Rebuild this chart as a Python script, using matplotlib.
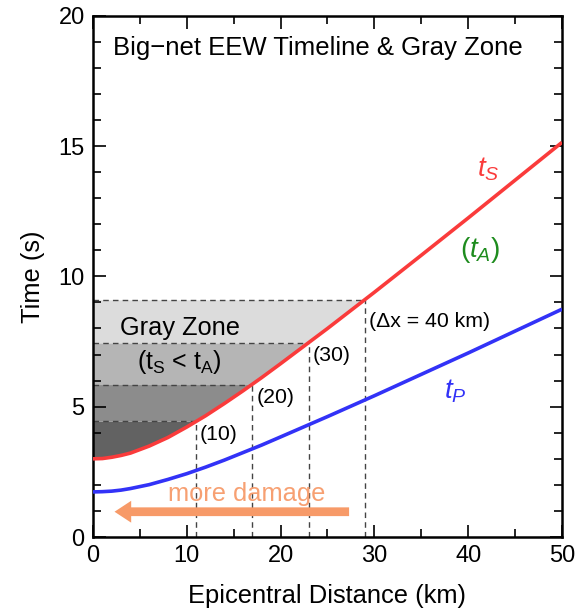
import numpy as np
import matplotlib
matplotlib.use('Agg')
import matplotlib.pyplot as plt

# ---------------------------------------------------------
# data
# ---------------------------------------------------------
dist = [0, 1, 2, 3, 4, 6, 8, 10, 12, 14, 16, 18, 20, 25, 30, 35, 40, 45, 50]
t_s = [3.00, 3.01, 3.06, 3.13, 3.22, 3.49, 3.82, 4.22, 4.65, 5.12, 5.61, 6.12,
       6.65, 8.00, 9.39, 10.81, 12.24, 13.69, 15.14]
t_p = [1.73, 1.74, 1.76, 1.80, 1.86, 2.01, 2.21, 2.43, 2.68, 2.95, 3.24, 3.53,
       3.84, 4.62, 5.42, 6.24, 7.06, 7.90, 8.74]

# gray zone steps (station spacing label, distance, time)
zone_labels = ['(10)', '(20)', '(30)', '(\u0394x = 40 km)']
zone_dist = [11.0, 17.0, 23.0, 29.0]
zone_time = [4.45, 5.85, 7.45, 9.10]
zone_colors = ['#626262', '#8c8c8c', '#b5b5b5', '#dcdcdc']

plt.rcParams['font.family'] = ['Liberation Sans', 'DejaVu Sans']
plt.rcParams['mathtext.fontset'] = 'custom'
plt.rcParams['mathtext.rm'] = 'Liberation Sans'
plt.rcParams['mathtext.it'] = 'Liberation Sans:italic'

fig = plt.figure(figsize=(5.75, 6.15), dpi=100)
ax = fig.add_axes([0.1617, 0.1268, 0.8157, 0.8477])

# gray bands between the left axis and the t_S curve
lo = 0.0
for hi, c in zip(zone_time, zone_colors):
    yy = np.linspace(lo, hi, 200)
    xr = np.interp(yy, t_s, dist)
    ax.fill_betweenx(yy, 0, xr, color=c, lw=0, zorder=1)
    lo = hi

# dashed guides
for xd, yd in zip(zone_dist, zone_time):
    ax.plot([0, xd], [yd, yd], ls=(0, (4, 3)), color='#444444', lw=1, zorder=2)
    ax.plot([xd, xd], [0, yd], ls=(0, (4, 3)), color='#444444', lw=1, zorder=2)

ax.plot(dist, t_s, color='#fa3b3b', lw=2.6, zorder=4, solid_capstyle='butt')
ax.plot(dist, t_p, color='#3232f7', lw=2.6, zorder=4, solid_capstyle='butt')

# labels for the steps
offs = [(0.35, -0.5), (0.4, -0.5), (0.4, -0.5), (0.4, -0.85)]
for lab, xd, yd, (dx, dy) in zip(zone_labels, zone_dist, zone_time, offs):
    ax.text(xd + dx, yd + dy, lab, fontsize=15.3, ha='left', va='center', zorder=5)

ax.text(2.1, 18.75, 'Big\u2212net EEW Timeline & Gray Zone', fontsize=18.5,
        ha='left', va='center')
ax.text(2.9, 8.0, 'Gray Zone', fontsize=18.3, ha='left', va='center', zorder=5)
ax.text(9.2, 6.7, r'(t$_\mathrm{S}$ < t$_\mathrm{A}$)', fontsize=18,
        ha='center', va='center', zorder=5)

ax.text(42.1, 14.1, r'$t_S$', color='#fa3b3b', fontsize=20, ha='center', va='center')
ax.text(41.3, 11.0, r'$(t_A)$', color='#1e8c1e', fontsize=20, ha='center', va='center')
ax.text(38.6, 5.6, r'$t_P$', color='#3232f7', fontsize=20, ha='center', va='center')

# more damage arrow
ax.annotate('', xy=(2.0, 0.97), xytext=(27.6, 0.97),
            arrowprops=dict(arrowstyle='simple,head_length=0.8,head_width=1.05,tail_width=0.42',
                            mutation_scale=15, color='#f79a68', lw=0), zorder=5)
ax.text(16.4, 1.65, 'more damage', color='#f7a072', fontsize=18.3, ha='center',
        va='center', zorder=5)

ax.set_xlim(0, 50)
ax.set_ylim(0, 20)
ax.set_xticks([0, 10, 20, 30, 40, 50])
ax.set_xticks(np.arange(5, 50, 10), minor=True)
ax.set_yticks([0, 5, 10, 15, 20])
ax.set_yticks(np.arange(0, 21, 1), minor=True)
ax.tick_params(which='both', direction='in', top=True, right=True, width=1.2,
               labelsize=17, pad=6)
ax.tick_params(which='major', length=9)
ax.tick_params(which='minor', length=6)
for s in ax.spines.values():
    s.set_linewidth(1.8)

ax.set_xlabel('Epicentral Distance (km)', fontsize=18.4, labelpad=12)
ax.set_ylabel('Time (s)', fontsize=18.4, labelpad=10)

fig.savefig('out.png', dpi=100)
